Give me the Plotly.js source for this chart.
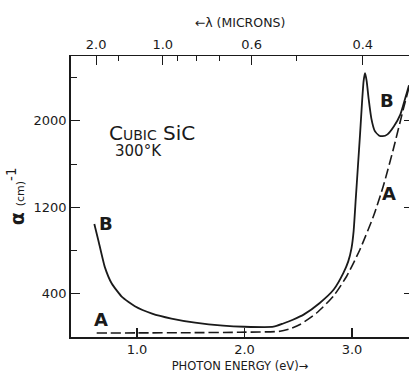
<!DOCTYPE html>
<html>
<head>
<meta charset="utf-8">
<script src="https://cdn.plot.ly/plotly-3.0.1.min.js"></script>
<style>html,body{margin:0;padding:0;background:#fff;}#chart{width:409px;height:374px;}</style>
</head>
<body>
<div id="chart"></div>
<script>
// Curve B (solid)
const energyB = [0.603, 0.64, 0.70, 0.765, 0.86, 0.98, 1.14, 1.32, 1.54, 1.8, 2.0, 2.27, 2.36, 2.45, 2.55, 2.70, 2.83, 2.92, 2.965, 2.995, 3.015, 3.035, 3.055, 3.075, 3.095, 3.108, 3.121, 3.136, 3.155, 3.18, 3.21, 3.25, 3.285, 3.33, 3.39, 3.45, 3.51, 3.53];
const alphaB  = [1045, 896, 649, 495, 371, 285, 217, 171, 133, 105, 95, 95, 125, 160, 207, 315, 439, 593, 700, 820, 980, 1280, 1580, 1880, 2200, 2370, 2441, 2370, 2200, 2020, 1910, 1865, 1858, 1875, 1950, 2060, 2261, 2330];
// Curve A (dashed)
const energyA = [0.625, 1.0, 1.5, 1.958, 2.33, 2.42, 2.516, 2.67, 2.826, 2.95, 3.074, 3.2, 3.291, 3.384, 3.477, 3.53];
const alphaA  = [37, 38, 40, 44, 53, 75, 115, 222, 377, 562, 810, 1119, 1397, 1737, 2108, 2310];
// Axis ticks
const energyTicks = [1, 2, 3];
const energyTickText = ["1.0", "2.0", "3.0"];
const alphaTicks = [400, 1200, 2000];
const alphaMinor = [800, 1600, 2400];
const lambdaMajor = [2.0, 1.0, 0.6, 0.4];
const lambdaMajorText = ["2.0", "1.0", "0.6", "0.4"];
const lambdaMinor = [1.5, 0.9, 0.8, 0.7, 0.5];
const HC = 1.2398; // eV·µm

const xRange = [0.386, 3.53];
const yRange = [0, 2600];
const ink = '#1a1a1a';
const F = 'DejaVu Sans, sans-serif';

const traces = [
  {x: energyB, y: alphaB, mode: 'lines', line: {color: ink, width: 1.8, shape: 'spline', smoothing: 0.5}, hoverinfo: 'skip', showlegend: false},
  {x: energyA, y: alphaA, mode: 'lines', line: {color: ink, width: 1.6, dash: '10px,4px', shape: 'spline', smoothing: 0.6}, hoverinfo: 'skip', showlegend: false},
  {x: [1], y: [100], xaxis: 'x2', yaxis: 'y2', mode: 'markers', marker: {opacity: 0}, hoverinfo: 'skip', showlegend: false}
];

const layout = {
  width: 409, height: 374,
  margin: {l: 71, r: 0, t: 56, b: 37},
  paper_bgcolor: '#fff', plot_bgcolor: '#fff',
  font: {family: F, color: ink, size: 13},
  xaxis: {
    range: xRange, showgrid: false, zeroline: false,
    showline: true, linecolor: ink, linewidth: 1.8,
    tickmode: 'array', tickvals: energyTicks, ticktext: energyTickText,
    ticks: 'inside', ticklen: 9, tickwidth: 1.2, tickcolor: ink,
    tickfont: {size: 13, family: F},
    title: {text: 'PHOTON ENERGY (eV)→', font: {size: 11.5, family: F}, standoff: 5}
  },
  xaxis2: {
    overlaying: 'x', side: 'top', range: xRange, showgrid: false, zeroline: false,
    showline: true, linecolor: ink, linewidth: 1.5,
    tickmode: 'array', tickvals: lambdaMajor.map(l => HC / l), ticktext: lambdaMajorText,
    ticks: 'inside', ticklen: 9, tickwidth: 1.2, tickcolor: ink,
    minor: {tickmode: 'array', tickvals: lambdaMinor.map(l => HC / l), ticks: 'inside', ticklen: 5, tickwidth: 1, tickcolor: ink},
    tickfont: {size: 13, family: F},
    title: {text: '←λ (MICRONS)', font: {size: 12.5, family: F}, standoff: 7}
  },
  yaxis: {
    range: yRange, showgrid: false, zeroline: false,
    showline: true, linecolor: ink, linewidth: 1.8,
    tickmode: 'array', tickvals: alphaTicks, ticktext: alphaTicks.map(String),
    ticks: 'inside', ticklen: 9, tickwidth: 1.2, tickcolor: ink,
    minor: {tickmode: 'array', tickvals: alphaMinor, ticks: 'inside', ticklen: 6, tickwidth: 1, tickcolor: ink},
    tickfont: {size: 13, family: F},
    title: {text: "<b>α</b> <span style='font-size:11px'>(cm)</span><sup>-1</sup>", font: {size: 19, family: F}, standoff: 4}
  },
  yaxis2: {
    overlaying: 'y', side: 'right', range: yRange, showgrid: false, zeroline: false,
    showline: false, tickmode: 'array', tickvals: alphaTicks, showticklabels: false,
    ticks: 'inside', ticklen: 5, tickwidth: 1, tickcolor: ink
  },
  annotations: [
    {x: 0.725, y: 1883, xref: 'x', yref: 'y', xanchor: 'left', yanchor: 'middle', showarrow: false,
     text: "C<span style='font-size:14px'>UBIC</span> SiC", font: {size: 20, family: F}},
    {x: 0.775, y: 1718, xref: 'x', yref: 'y', xanchor: 'left', yanchor: 'middle', showarrow: false,
     text: '300°K', font: {size: 15, family: F}},
    {x: 0.712, y: 1050, xref: 'x', yref: 'y', showarrow: false, text: '<b>B</b>', font: {size: 18, family: F}},
    {x: 0.665, y: 164, xref: 'x', yref: 'y', showarrow: false, text: '<b>A</b>', font: {size: 18, family: F}},
    {x: 3.326, y: 2190, xref: 'x', yref: 'y', showarrow: false, text: '<b>B</b>', font: {size: 18, family: F}},
    {x: 3.344, y: 1328, xref: 'x', yref: 'y', showarrow: false, text: '<b>A</b>', font: {size: 18, family: F}}
  ]
};

Plotly.newPlot('chart', traces, layout, {displayModeBar: false, staticPlot: true});
</script>
</body>
</html>
